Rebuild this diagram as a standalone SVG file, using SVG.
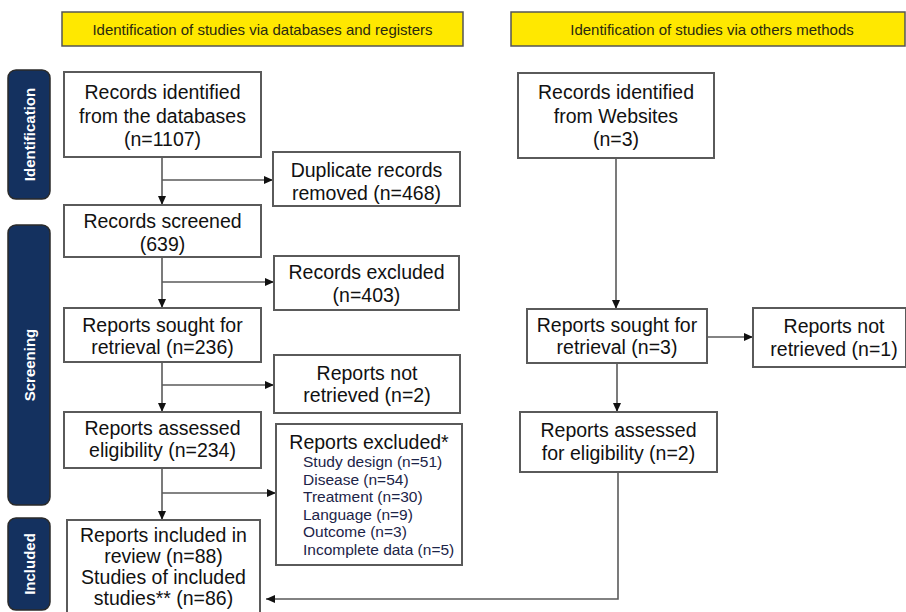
<svg xmlns="http://www.w3.org/2000/svg" width="906" height="612" viewBox="0 0 906 612">
<defs>
<marker id="ah" markerUnits="userSpaceOnUse" markerWidth="10" markerHeight="8" refX="9" refY="4" orient="auto">
<path d="M0,0 L9,4 L0,8 Z" fill="#111"/>
</marker>
<style>
.hdr{fill:#ffe800;stroke:#555;stroke-width:1.5}
.hdt{font-family:"Liberation Sans",Arial,sans-serif;font-size:15px;fill:#2a2a10;text-anchor:middle}
.side{fill:#14315f;stroke:#2a2a2a;stroke-width:1.5}
.sdt{font-family:"Liberation Sans",Arial,sans-serif;font-size:15px;font-weight:bold;fill:#fff;text-anchor:middle}
.box{fill:#fff;stroke:#5a5a5a;stroke-width:2}
.t{font-family:"Liberation Sans",Arial,sans-serif;font-size:19.5px;fill:#111;text-anchor:middle}
.s{font-family:"Liberation Sans",Arial,sans-serif;font-size:15.5px;fill:#1c2448}
.ln{fill:none;stroke:#5a5a5a;stroke-width:1.6}
.ar{marker-end:url(#ah)}
</style>
</defs>
<rect width="906" height="612" fill="#fff"/>

<g id="header-databases">
<rect class="hdr" x="62" y="12" width="401" height="34"/>
<text class="hdt" x="262.5" y="34.5">Identification of studies via databases and registers</text>
</g>
<g id="header-others">
<rect class="hdr" x="511" y="12" width="394" height="34"/>
<text class="hdt" x="712" y="34.5">Identification of studies via others methods</text>
</g>

<g id="stage-identification">
<rect class="side" x="8" y="70" width="42" height="129" rx="8"/>
<text class="sdt" transform="translate(34.5,134.5) rotate(-90)">Identification</text>
</g>
<g id="stage-screening">
<rect class="side" x="8" y="225" width="42" height="280" rx="8"/>
<text class="sdt" transform="translate(34.5,365) rotate(-90)">Screening</text>
</g>
<g id="stage-included">
<rect class="side" x="8" y="518" width="42" height="92" rx="8"/>
<text class="sdt" transform="translate(34.5,564) rotate(-90)">Included</text>
</g>

<g id="connectors">
<line class="ln ar" x1="162" y1="157" x2="162" y2="205"/>
<line class="ln ar" x1="162" y1="180" x2="273" y2="180"/>
<line class="ln ar" x1="162" y1="257" x2="162" y2="308"/>
<line class="ln ar" x1="162" y1="282" x2="274" y2="282"/>
<line class="ln ar" x1="162" y1="362" x2="162" y2="412"/>
<line class="ln ar" x1="162" y1="385" x2="274" y2="385"/>
<line class="ln ar" x1="162" y1="468" x2="162" y2="520"/>
<line class="ln ar" x1="162" y1="493" x2="276" y2="493"/>
<line class="ln ar" x1="616" y1="158" x2="616" y2="309"/>
<line class="ln ar" x1="707" y1="337" x2="753" y2="337"/>
<line class="ln ar" x1="617" y1="363" x2="617" y2="412"/>
<polyline class="ln ar" points="618,472 618,599 266,599"/>
</g>

<g id="records-identified-db">
<rect class="box" x="64" y="72" width="197" height="85"/>
<text class="t" x="162.5" y="99">Records identified</text>
<text class="t" x="162.5" y="123">from the databases</text>
<text class="t" x="162.5" y="146">(n=1107)</text>
</g>
<g id="duplicates-removed">
<rect class="box" x="273" y="152" width="187" height="54"/>
<text class="t" x="366.5" y="177">Duplicate records</text>
<text class="t" x="366.5" y="200">removed (n=468)</text>
</g>
<g id="records-screened">
<rect class="box" x="64" y="205" width="197" height="52"/>
<text class="t" x="162.5" y="228">Records screened</text>
<text class="t" x="162.5" y="251">(639)</text>
</g>
<g id="records-excluded">
<rect class="box" x="274" y="256" width="185" height="54"/>
<text class="t" x="366.5" y="279">Records excluded</text>
<text class="t" x="366.5" y="302">(n=403)</text>
</g>
<g id="reports-sought-db">
<rect class="box" x="64" y="308" width="197" height="54"/>
<text class="t" x="162.5" y="332">Reports sought for</text>
<text class="t" x="162.5" y="354">retrieval (n=236)</text>
</g>
<g id="reports-not-retrieved-db">
<rect class="box" x="274" y="355" width="186" height="58"/>
<text class="t" x="367" y="380">Reports not</text>
<text class="t" x="367" y="402">retrieved (n=2)</text>
</g>
<g id="reports-assessed-db">
<rect class="box" x="64" y="412" width="197" height="56"/>
<text class="t" x="162.5" y="435">Reports assessed</text>
<text class="t" x="162.5" y="457">eligibility (n=234)</text>
</g>
<g id="reports-excluded">
<rect class="box" x="276" y="424" width="186" height="141"/>
<text class="t" x="369" y="449">Reports excluded*</text>
<text class="s" x="303" y="467">Study design (n=51)</text>
<text class="s" x="303" y="484.5">Disease (n=54)</text>
<text class="s" x="303" y="502">Treatment (n=30)</text>
<text class="s" x="303" y="519.5">Language (n=9)</text>
<text class="s" x="303" y="537">Outcome (n=3)</text>
<text class="s" x="303" y="554.5">Incomplete data (n=5)</text>
</g>
<g id="reports-included">
<rect class="box" x="67" y="520" width="193" height="100"/>
<text class="t" x="163.5" y="542">Reports included in</text>
<text class="t" x="163.5" y="563">review (n=88)</text>
<text class="t" x="163.5" y="584">Studies of included</text>
<text class="t" x="163.5" y="605">studies** (n=86)</text>
</g>

<g id="records-identified-web">
<rect class="box" x="518" y="73" width="196" height="85"/>
<text class="t" x="616" y="99">Records identified</text>
<text class="t" x="616" y="123">from Websites</text>
<text class="t" x="616" y="146">(n=3)</text>
</g>
<g id="reports-sought-web">
<rect class="box" x="527" y="309" width="180" height="54"/>
<text class="t" x="617" y="332">Reports sought for</text>
<text class="t" x="617" y="354">retrieval (n=3)</text>
</g>
<g id="reports-not-retrieved-web">
<rect class="box" x="753" y="308" width="153" height="59"/>
<text class="t" x="834" y="333">Reports not</text>
<text class="t" x="834" y="356">retrieved (n=1)</text>
</g>
<g id="reports-assessed-web">
<rect class="box" x="520" y="412" width="197" height="60"/>
<text class="t" x="618.5" y="437">Reports assessed</text>
<text class="t" x="618.5" y="460">for eligibility (n=2)</text>
</g>
</svg>
